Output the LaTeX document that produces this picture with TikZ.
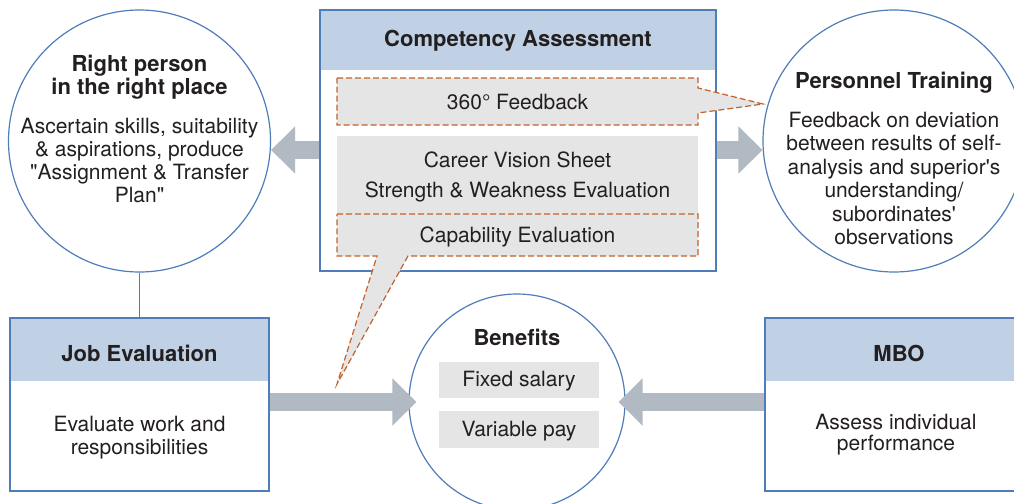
\documentclass[tikz,border=0pt]{standalone}
\usepackage{fontspec}
\setmainfont{TeX Gyre Heros}
\usetikzlibrary{arrows.meta}
\definecolor{bblue}{HTML}{4F7DB9}
\definecolor{hblue}{HTML}{C0D1E6}
\definecolor{lgray}{HTML}{E5E5E5}
\definecolor{dorange}{HTML}{C2622C}
\definecolor{agray}{HTML}{B1B9C3}
\definecolor{txt}{HTML}{231F20}
\begin{document}
\begin{tikzpicture}[x=1pt,y=-1pt,
 frame/.style={draw=bblue, line width=1.2pt, inner sep=0pt, rectangle},
 headbox/.style={fill=hblue, inner sep=0pt, rectangle},
 circ/.style={draw=bblue, line width=1.2pt, circle, inner sep=0pt, fill=white},
 title/.style={font=\fontsize{22}{23}\selectfont\bfseries, text=txt, align=center, inner sep=0pt},
 body/.style={font=\fontsize{21}{23}\selectfont, text=txt, align=center, inner sep=0pt},
 graybox/.style={fill=lgray, inner sep=0pt, rectangle},
 callout/.style={fill=lgray, draw=dorange, dash pattern=on 6pt off 3pt, line width=1.2pt},
 fat/.style={draw=agray, line width=18pt, -{Triangle[length=24pt,width=46pt]}},
 link/.style={draw=bblue, line width=1.2pt},
]
\useasboundingbox (0,0) rectangle (1014,503);
\fill[white] (0,0) rectangle (1014,503);
\coordinate (y150) at (0,150);

% Competency Assessment
\node[headbox, minimum width=395pt, minimum height=60pt] (cah) at (518,40) {};
\node[frame, minimum width=396pt, minimum height=261pt] (ca) at (518,140.5) {};
\node[title] (catitle) at (518,41) {Competency Assessment};

\path[callout] (337,78) -- (698,78) -- (698,88) -- (763,104) -- (698,113) -- (698,125) -- (337,125) -- cycle;
\node[body] (fb) at (517.5,102.5) {360° Feedback};

\fill[lgray] (337,136) rectangle (698,214);
\node[body] (cvs) at (517.5,159.5) {Career Vision Sheet};
\node[body] (swe) at (517.5,191.5) {Strength \& Weakness Evaluation};

\path[callout] (337,214) -- (698,214) -- (698,256) -- (408,256) -- (337,384) -- (377,256) -- (337,256) -- cycle;
\node[body] (cape) at (517.5,236.5) {Capability Evaluation};

% Right person circle
\node[circ, minimum size=262pt] (rp) at (139.5,141) {};
\node[title] (rptitle) at (139.5,77.5) {Right person\\in the right place};
\node[body] (rpbody) at (139.5,161) {Ascertain skills, suitability\\\& aspirations, produce\\\textquotedbl Assignment \& Transfer\\Plan\textquotedbl};

% Personnel training circle
\node[circ, minimum size=262pt] (pt) at (894,141) {};
\node[title] (pttitle) at (894,83) {Personnel Training};
\node[body, font=\fontsize{21}{23.5}\selectfont] (ptbody) at (894,178.5) {Feedback on deviation\\between results of self-\\analysis and superior\textquotesingle s\\understanding/\\subordinates\textquotesingle\\observations};

% Job Evaluation
\node[headbox, minimum width=258pt, minimum height=63pt] (jeh) at (139.5,349.5) {};
\node[frame, minimum width=259pt, minimum height=173pt] (je) at (139.5,404.5) {};
\node[title] (jetitle) at (139.5,353) {Job Evaluation};
\node[body] (jebody) at (139.5,437.5) {Evaluate work and\\responsibilities};

% MBO (extends past the right edge)
\node[headbox, minimum width=263pt, minimum height=63pt] (mboh) at (897,349.5) {};
\node[frame, minimum width=264pt, minimum height=173pt] (mbo) at (897,404.5) {};
\node[title] (mbotitle) at (899,353) {MBO};
\node[body, font=\fontsize{21}{21}\selectfont] (mbobody) at (896,435) {Assess individual\\performance};

% Benefits
\node[circ, minimum size=216pt] (ben) at (517,402) {};
\node[title] (bentitle) at (517,337) {Benefits};
\node[graybox, minimum width=160pt, minimum height=36pt] (fs) at (519,380) {};
\node[body] at ([yshift=-1.5pt]fs.center) {Fixed salary};
\node[graybox, minimum width=160pt, minimum height=37pt] (vp) at (519,429.5) {};
\node[body] at ([yshift=-1.5pt]vp.center) {Variable pay};

% connectors
\draw[link] (rp.south) -- (je.north);
\draw[fat] (ca.west |- y150) -- (rp.east |- y150);
\draw[fat] (ca.east |- y150) -- (pt.west |- y150);
\draw[fat] (je.east |- ben.west) -- ([xshift=8pt]ben.west);
\draw[fat] (mbo.west |- ben.east) -- ([xshift=-7pt]ben.east);
\end{tikzpicture}
\end{document}
